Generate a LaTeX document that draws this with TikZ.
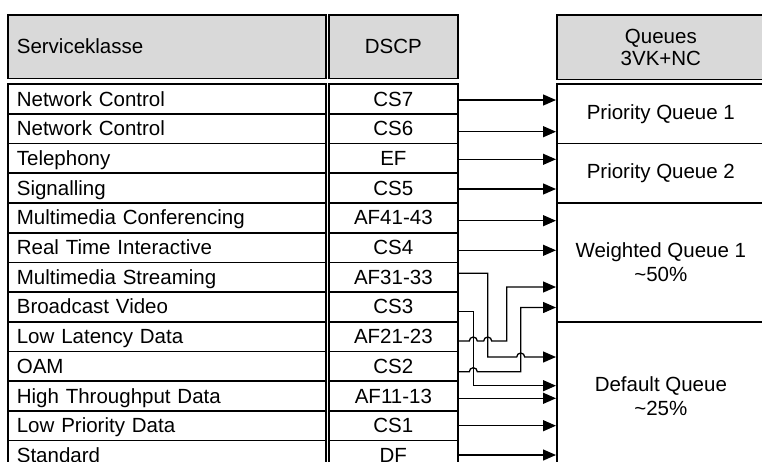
\documentclass[tikz,border=0pt]{standalone}
\usepackage{fontspec}
\setmainfont{Liberation Sans}
\usetikzlibrary{arrows.meta}
\definecolor{headgray}{RGB}{217,217,217}

\begin{document}
\begin{tikzpicture}[x=1pt,y=-1pt,>={Triangle[length=13pt,width=11pt]},font=\fontsize{20.5}{24}\selectfont,
  cell/.style={draw,line width=1.7pt,anchor=north west,inner sep=0pt,minimum height=29.7pt,text height=15pt,text depth=1pt},
  klasse/.style={cell,text width=300pt,inner xsep=9pt,align=left},
  dscp/.style={cell,minimum width=129pt},
  head/.style={draw,line width=1.7pt,fill=headgray,anchor=north west,inner sep=0pt,minimum height=63.5pt},
  queue/.style={draw,line width=1.7pt,anchor=north west,inner sep=0pt,minimum width=208pt,align=center},
  flow/.style={->,line width=1.3pt}]
\useasboundingbox (0,0) rectangle (762,461);
\node[head,text width=300pt,inner xsep=9pt,align=left] (hklasse) at (7,14) {Serviceklasse};
\node[head,minimum width=129pt] (hdscp) at (328,14) {DSCP};
\node[head,minimum width=208pt,minimum height=64.5pt,align=center,font=\fontsize{20.5}{22}\selectfont] (hqueue) at (556,14) {Queues\\3VK+NC};
\node[klasse] (k1) at (7,83.3) {Network Control};
\node[klasse] (k2) at (7,113.0) {Network Control};
\node[klasse] (k3) at (7,142.7) {Telephony};
\node[klasse] (k4) at (7,172.4) {Signalling};
\node[klasse] (k5) at (7,202.1) {Multimedia Conferencing};
\node[klasse] (k6) at (7,231.8) {Real Time Interactive};
\node[klasse] (k7) at (7,261.5) {Multimedia Streaming};
\node[klasse] (k8) at (7,291.2) {Broadcast Video};
\node[klasse] (k9) at (7,320.9) {Low Latency Data};
\node[klasse] (k10) at (7,350.6) {OAM};
\node[klasse] (k11) at (7,380.3) {High Throughput Data};
\node[klasse] (k12) at (7,410.0) {Low Priority Data};
\node[klasse] (k13) at (7,439.7) {Standard};
\node[dscp] (d1) at (328,83.3) {CS7};
\node[dscp] (d2) at (328,113.0) {CS6};
\node[dscp] (d3) at (328,142.7) {EF};
\node[dscp] (d4) at (328,172.4) {CS5};
\node[dscp] (d5) at (328,202.1) {AF41-43};
\node[dscp] (d6) at (328,231.8) {CS4};
\node[dscp] (d7) at (328,261.5) {AF31-33};
\node[dscp] (d8) at (328,291.2) {CS3};
\node[dscp] (d9) at (328,320.9) {AF21-23};
\node[dscp] (d10) at (328,350.6) {CS2};
\node[dscp] (d11) at (328,380.3) {AF11-13};
\node[dscp] (d12) at (328,410.0) {CS1};
\node[dscp] (d13) at (328,439.7) {DF};
\node[queue,minimum height=59.4pt] (pq1) at (556,83.3) {Priority Queue 1};
\node[queue,minimum height=59.4pt] (pq2) at (556,142.7) {Priority Queue 2};
\node[queue,minimum height=118.8pt] (wq1) at (556,202.1) {Weighted Queue 1\\\textasciitilde 50\%};
\node[queue,minimum height=148.5pt] (dq) at (556,320.9) {Default Queue\\\textasciitilde 25\%};
\draw[flow] (d1.east |- 0,100) -- (pq1.west |- 0,100);
\draw[flow] (d2.east |- 0,131.7) -- (pq1.west |- 0,131.7);
\draw[flow] (d3.east |- 0,159.3) -- (pq2.west |- 0,159.3);
\draw[flow] (d4.east |- 0,189) -- (pq2.west |- 0,189);
\draw[flow] (d5.east |- 0,220.7) -- (wq1.west |- 0,220.7);
\draw[flow] (d6.east |- 0,250.3) -- (wq1.west |- 0,250.3);
\draw[flow] (d7.east |- 0,273.3) -| (487.7,357) -- (516.7,357) arc[start angle=180,end angle=0,radius=4pt] -- (dq.west |- 0,357);
\draw[flow] (d8.east |- 0,311.7) -| (473.3,385.7) -- (dq.west |- 0,385.7);
\draw[flow] (d9.east |- 0,341) -- (469.3,341) arc[start angle=180,end angle=0,radius=4pt] -- (483.7,341) arc[start angle=180,end angle=0,radius=4pt] -- (506.7,341) |- (wq1.west |- 0,287);
\draw[flow] (d10.east |- 0,371.7) -- (469.3,371.7) arc[start angle=180,end angle=0,radius=4pt] -- (520.7,371.7) |- (wq1.west |- 0,307.5);
\draw[flow] (d11.east |- 0,398.3) -- (dq.west |- 0,398.3);
\draw[flow] (d12.east |- 0,425.7) -- (dq.west |- 0,425.7);
\draw[flow] (d13.east |- 0,455) -- (dq.west |- 0,455);
\end{tikzpicture}
\end{document}
